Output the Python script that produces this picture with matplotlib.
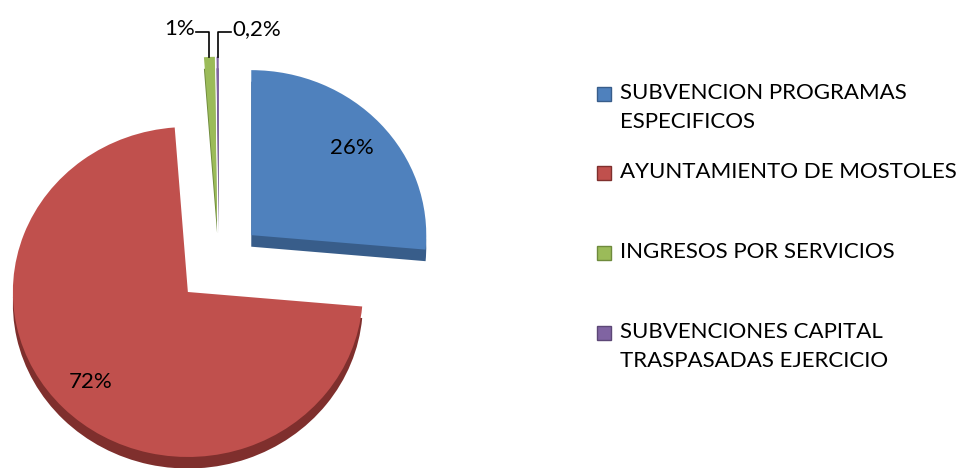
import numpy as np
import matplotlib.pyplot as plt
from matplotlib.patches import Rectangle

plt.rcParams['font.family'] = ['Lato', 'DejaVu Sans']

categories = ['SUBVENCION PROGRAMAS\nESPECIFICOS', 'AYUNTAMIENTO DE MOSTOLES',
              'INGRESOS POR SERVICIOS', 'SUBVENCIONES CAPITAL\nTRASPASADAS EJERCICIO']
values = [26.4, 72.4, 1.0, 0.2]
pct_labels = ['26%', '72%', '1%', '0,2%']
colors = ['#4F81BD', '#C0504D', '#9BBB59', '#8064A2']
side_colors = ['#385D8A', '#7F2F2D', '#6E8A3C', '#5C4776']
explode = [0.25, 0.25, 0.25, 0.25]

W, H = 965, 468
fig = plt.figure(figsize=(W / 100, H / 100), dpi=100)
ax = fig.add_axes([0, 0, 1, 1])

# pie centre in pixels and radius scales (slightly tilted -> ellipse)
cx, cy, rx, ry = 219, 263, 175, 165

# dark lower copy gives the 3D side
ax.pie(values, colors=side_colors, explode=explode, startangle=90,
       counterclock=False, center=(0, -0.07), frame=True,
       wedgeprops=dict(linewidth=0))
wedges, _ = ax.pie(values, colors=colors, explode=explode, startangle=90,
                   counterclock=False, frame=True,
                   wedgeprops=dict(linewidth=0))
ax.set_aspect('auto')
ax.set_xlim(-cx / rx, (W - cx) / rx)
ax.set_ylim(-(H - cy) / ry, cy / ry)
ax.set_axis_off()

fs = 16
for i, w in enumerate(wedges):
    mid = np.deg2rad((w.theta1 + w.theta2) / 2)
    x0, y0 = w.center
    if values[i] > 5:
        ax.text(x0 + 0.78 * np.cos(mid), y0 + 0.78 * np.sin(mid), pct_labels[i],
                ha='center', va='center', fontsize=fs, color='black')
    else:
        px, py = x0 + w.r * np.cos(mid), y0 + w.r * np.sin(mid)
        side = -1 if i == 2 else 1
        ly = py + 0.15
        lx = px + side * 0.075
        ax.plot([px, px, lx], [py, ly, ly], color='black', lw=1.2)
        ax.text(lx + side * 0.01, ly + 0.02, pct_labels[i],
                ha='right' if side < 0 else 'left', va='center',
                fontsize=fs, color='black')

# legend
leg_y = [94, 173, 253, 333]
for lab, c, sc, y in zip(categories, colors, side_colors, leg_y):
    fig.patches.append(Rectangle((597 / W, 1 - (y + 7) / H), 14 / W, 14 / H,
                                 transform=fig.transFigure, facecolor=c,
                                 edgecolor=sc, lw=1))
    fig.text(620 / W, 1 - (y - 11) / H, lab, ha='left', va='top',
             fontsize=fs, linespacing=1.55, color='black')

fig.savefig('out.png', dpi=100)
